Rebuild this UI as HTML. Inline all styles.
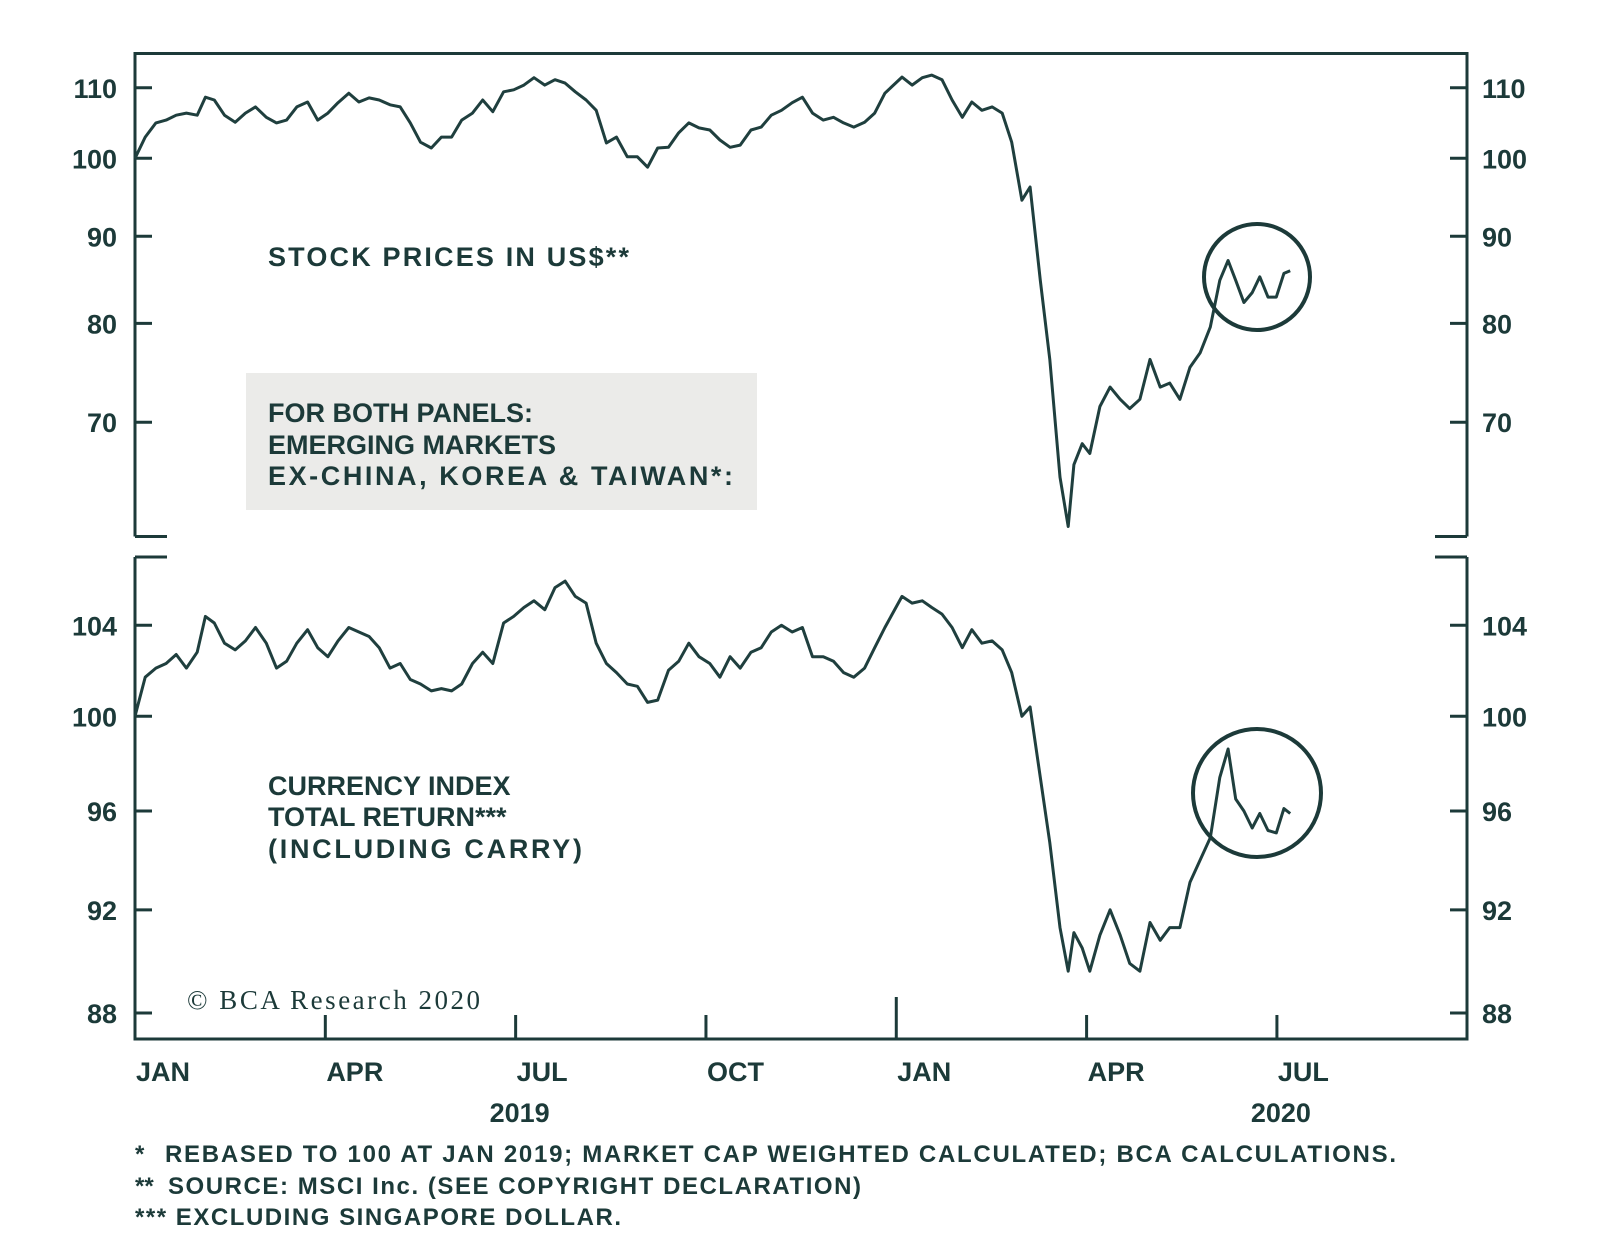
<!DOCTYPE html>
<html><head><meta charset="utf-8"><style>
html,body{margin:0;padding:0;background:#fff;}
svg{display:block;font-family:"Liberation Sans",Arial,sans-serif;}
.tk{font-size:27px;font-weight:bold;fill:#1c3a39;}
.ann{font-size:27px;font-weight:bold;fill:#1c3a39;}
.fn{font-size:24px;fill:#1c3a39;font-weight:bold;}
</style></head><body>
<svg id="chart" width="1600" height="1260" viewBox="0 0 1600 1260" xmlns="http://www.w3.org/2000/svg">
<g id="frames" stroke="#1c3a39" stroke-width="3" fill="none">
<path d="M135,536.5 L135,53.5 L1467,53.5 L1467,536.5 M135,536.5 L167,536.5 M1435,536.5 L1467,536.5"/>
<path d="M135,557 L135,1039 L1467,1039 L1467,557 M135,557 L167,557 M1435,557 L1467,557"/>
</g>
<rect x="246" y="373" width="511" height="137" fill="#ebebe9"/>
<g id="ticks"></g>
<g id="labels"></g>
<path id="topLine" fill="none" stroke="#1f3f3e" stroke-width="3" stroke-linejoin="round"/>
<path id="botLine" fill="none" stroke="#1f3f3e" stroke-width="3" stroke-linejoin="round"/>
<circle cx="1257" cy="277" r="53" fill="none" stroke="#1c3a39" stroke-width="4"/>
<circle cx="1257" cy="793" r="64" fill="none" stroke="#1c3a39" stroke-width="4"/>
<text class="ann" x="268" y="266" textLength="361">STOCK PRICES IN US$**</text>
<text class="ann" x="268" y="422">FOR BOTH PANELS:</text>
<text class="ann" x="268" y="454">EMERGING MARKETS</text>
<text class="ann" x="268" y="485" textLength="465">EX-CHINA, KOREA &amp; TAIWAN*:</text>
<text class="ann" x="268" y="795">CURRENCY INDEX</text>
<text class="ann" x="268" y="826">TOTAL RETURN***</text>
<text class="ann" x="268" y="858" textLength="314">(INCLUDING CARRY)</text>
<text x="187" y="1009" font-family="Liberation Serif, serif" font-size="27" fill="#1c3a39" textLength="293">© BCA Research 2020</text>
<text class="fn" x="135" y="1162">*</text>
<text class="fn" x="165" y="1162" textLength="1231">REBASED TO 100 AT JAN 2019; MARKET CAP WEIGHTED CALCULATED; BCA CALCULATIONS.</text>
<text class="fn" x="135" y="1194">**</text>
<text class="fn" x="168" y="1194" textLength="693">SOURCE: MSCI Inc. (SEE COPYRIGHT DECLARATION)</text>
<text class="fn" x="135" y="1225" textLength="486">*** EXCLUDING SINGAPORE DOLLAR.</text>
</svg>
<script>
const months=[0,0.16,0.33,0.49,0.65,0.81,0.98,1.11,1.25,1.41,1.58,1.74,1.90,2.07,2.23,2.39,2.55,2.72,2.88,3.04,3.20,3.37,3.53,3.69,3.85,4.02,4.18,4.34,4.50,4.67,4.83,4.99,5.15,5.32,5.48,5.64,5.81,5.97,6.13,6.29,6.46,6.62,6.78,6.94,7.11,7.27,7.43,7.59,7.76,7.92,8.08,8.24,8.41,8.57,8.73,8.89,9.06,9.22,9.38,9.54,9.71,9.87,10.03,10.19,10.36,10.52,10.68,10.85,11.01,11.17,11.33,11.50,11.66,11.82,
12.09,12.25,12.41,12.56,12.72,12.88,13.04,13.19,13.35,13.51,13.67,13.82,13.98,14.11,14.27,14.42,14.58,14.71,14.80,14.93,15.05,15.21,15.37,15.53,15.68,15.84,16.00,16.16,16.31,16.47,16.63,16.79,16.95,17.10,17.23,17.35,17.48,17.61,17.73,17.86,17.99,18.11,18.21];
const stockPrices=[100,102.9,104.9,105.3,106.0,106.3,106.0,108.6,108.2,106.0,105.0,106.3,107.2,105.7,104.9,105.3,107.2,107.9,105.3,106.3,107.8,109.2,107.9,108.5,108.2,107.5,107.2,104.9,102.2,101.4,102.9,102.9,105.3,106.3,108.2,106.5,109.4,109.7,110.4,111.5,110.4,111.2,110.7,109.4,108.2,106.7,102.1,102.9,100.2,100.2,98.8,101.4,101.5,103.5,104.9,104.2,103.9,102.5,101.5,101.8,103.9,104.3,106.0,106.7,107.8,108.6,106.3,105.3,105.7,104.9,104.3,105.0,106.3,109.2,
111.6,110.4,111.5,111.9,111.2,108.2,105.7,107.9,106.7,107.2,106.3,102.2,94.5,96.2,84.8,76.2,65.0,60.8,66.1,68.0,67.1,71.5,73.4,72.2,71.3,72.2,76.2,73.4,73.8,72.2,75.4,76.9,79.6,84.8,87.1,84.8,82.3,83.4,85.2,82.9,82.9,85.6,85.9];
const currencyIndex=[100,101.7,102.1,102.3,102.7,102.1,102.8,104.4,104.1,103.2,102.9,103.3,103.9,103.2,102.1,102.4,103.2,103.8,103.0,102.6,103.3,103.9,103.7,103.5,103.0,102.1,102.3,101.6,101.4,101.1,101.2,101.1,101.4,102.3,102.8,102.3,104.1,104.4,104.8,105.1,104.7,105.7,106.0,105.3,105.0,103.2,102.3,101.9,101.4,101.3,100.6,100.7,102.0,102.4,103.2,102.6,102.3,101.7,102.6,102.1,102.8,103.0,103.7,104.0,103.7,103.9,102.6,102.6,102.4,101.9,101.7,102.1,103.0,103.9,
105.3,105.0,105.1,104.8,104.5,103.9,103.0,103.8,103.2,103.3,102.9,101.9,100.0,100.4,97.4,94.7,91.3,89.6,91.1,90.5,89.6,91.0,92.0,91.0,89.9,89.6,91.5,90.8,91.3,91.3,93.1,94.0,94.9,97.4,98.6,96.5,96.0,95.3,95.9,95.2,95.1,96.1,95.9];
const topTicks=[110,100,90,80,70];
const botTicks=[104,100,96,92,88];
const xTickMonths=[0,3,6,9,12,15,18];
const xTickLabels=["JAN","APR","JUL","OCT","JAN","APR","JUL"];
const yearLabels=["2019","2020"];
const yearMonths=[6,18];

const NS="http://www.w3.org/2000/svg";
function xS(m){return 135+m*63.44;}
function yTop(v){return 158.3-740*Math.log(v/100);}
function yBot(v){return 716.3-2321*Math.log(v/100);}
function mk(tag,attrs,parent){const e=document.createElementNS(NS,tag);for(const k in attrs)e.setAttribute(k,attrs[k]);parent.appendChild(e);return e;}
function pathFor(vals,ys){return vals.map((v,i)=>(i?"L":"M")+xS(months[i]).toFixed(1)+","+ys(v).toFixed(1)).join(" ");}
document.getElementById('topLine').setAttribute('d',pathFor(stockPrices,yTop));
document.getElementById('botLine').setAttribute('d',pathFor(currencyIndex,yBot));
const tg=document.getElementById('ticks'),lg=document.getElementById('labels');
function yAxis(ticks,sc,name){
 ticks.forEach(t=>{
  const y=sc(t);
  const l1=mk('line',{x1:135,x2:152,y1:y,y2:y,stroke:'#1c3a39','stroke-width':3},tg);
  
  
  const l2=mk('line',{x1:1450,x2:1467,y1:y,y2:y,stroke:'#1c3a39','stroke-width':3},tg);
  
  
  const a=mk('text',{x:117,y:y+10,'text-anchor':'end','class':'tk'},lg);a.textContent=t;
  
  
  const b=mk('text',{x:1482,y:y+10,'class':'tk'},lg);b.textContent=t;
  
  
 });
}
yAxis(topTicks,yTop,'top-y');
yAxis(botTicks,yBot,'bottom-y');
xTickMonths.forEach((m,i)=>{
 const x=xS(m);
 if(m>0){
  const h=(m%12===0)?42:24;
  const t=mk('line',{x1:x,x2:x,y1:1039-h,y2:1039,stroke:'#1c3a39','stroke-width':3},tg);
  
  
 }
 const lb=mk('text',{x:x+1,y:1081,'class':'tk'},lg);lb.textContent=xTickLabels[i];
 
 
});
yearLabels.forEach((s,i)=>{
 const lb=mk('text',{x:xS(yearMonths[i])+4,y:1122,'text-anchor':'middle','class':'tk'},lg);lb.textContent=s;
 
 
});
</script>
</body></html>
